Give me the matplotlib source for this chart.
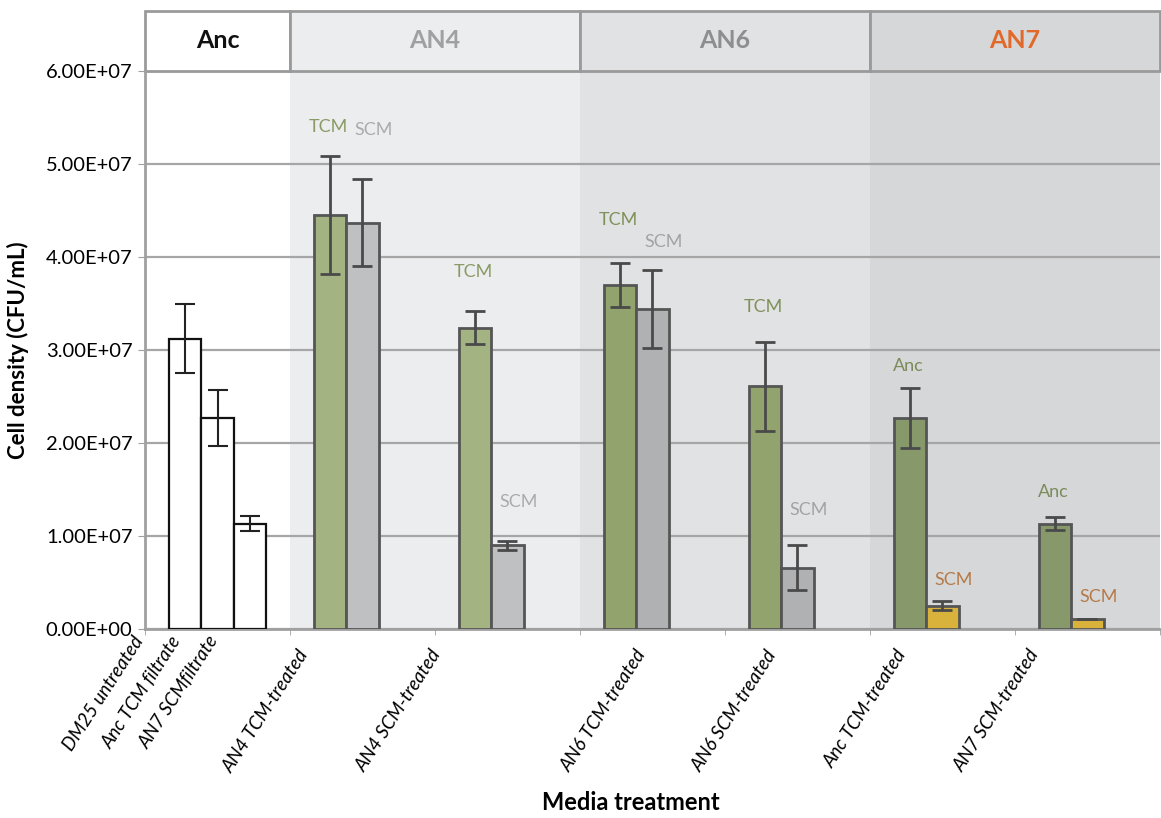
import matplotlib
matplotlib.use('Agg')
import matplotlib.pyplot as plt
import matplotlib.transforms as mtransforms
from matplotlib.patches import Rectangle
import numpy as np

plt.rcParams['font.family'] = ['Lato', 'DejaVu Sans']

# ancestor controls (white bars)
anc_labels = ['DM25 untreated', 'Anc TCM filtrate', 'AN7 SCMfiltrate']
anc_vals = [3.12e7, 2.27e7, 1.13e7]
anc_err = [0.37e7, 0.30e7, 0.08e7]

# treated pairs: first bar (TCM / Anc), second bar (SCM)
pair_labels = ['AN4 TCM-treated', 'AN4 SCM-treated', 'AN6 TCM-treated',
               'AN6 SCM-treated', 'Anc TCM-treated', 'AN7 SCM-treated']
first_vals = [4.45e7, 3.24e7, 3.70e7, 2.61e7, 2.27e7, 1.13e7]
first_err = [0.63e7, 0.18e7, 0.24e7, 0.48e7, 0.32e7, 0.07e7]
second_vals = [4.37e7, 0.90e7, 3.44e7, 0.66e7, 0.25e7, 0.11e7]
second_err = [0.47e7, 0.05e7, 0.42e7, 0.24e7, 0.05e7, 0.0]

first_names = ['TCM', 'TCM', 'TCM', 'TCM', 'Anc', 'Anc']
second_names = ['SCM', 'SCM', 'SCM', 'SCM', 'SCM', 'SCM']
first_name_y = [5.40e7, 3.84e7, 4.40e7, 3.46e7, 2.83e7, 1.47e7]
second_name_y = [5.37e7, 1.37e7, 4.16e7, 1.28e7, 0.53e7, 0.34e7]

sections = ['Anc', 'AN4', 'AN6', 'AN7']
section_edges = [0, 4.5, 13.5, 22.5, 31.5]
section_bg = ['#FFFFFF', '#ECEDEF', '#E1E2E4', '#D6D7D9']
section_title_col = ['#111111', '#A0A0A0', '#8E8E8E', '#E2692A']

first_cols = ['#A3B381', '#A3B381', '#93A36E', '#93A36E', '#87996A', '#87996A']
second_cols = ['#BFC0C2', '#BFC0C2', '#B0B1B3', '#B0B1B3', '#D9B23C', '#D9B23C']
first_txt = ['#8A9A64', '#8A9A64', '#7F9058', '#7F9058', '#7B8B5B', '#7B8B5B']
second_txt = ['#ABABAB', '#ABABAB', '#A3A3A3', '#A3A3A3', '#B57A48', '#B57A48']

anc_x = np.array([1.25, 2.25, 3.25])
pair_x = np.array([6.25, 10.75, 15.25, 19.75, 24.25, 28.75])
anc_label_x = [-0.4, 0.78, 1.93]
pair_label_x = [4.73, 8.83, 15.19, 19.26, 23.3, 27.4]

fig = plt.figure(figsize=(11.61, 8.18), dpi=100)
ax = fig.add_axes([0.1249, 0.2311, 0.8742, 0.6822])

# shaded sections and header boxes
for i, name in enumerate(sections):
    x0, x1 = section_edges[i], section_edges[i + 1]
    ax.axvspan(x0, x1, color=section_bg[i], zorder=0, lw=0)
    ax.add_patch(Rectangle((x0, 1.0), x1 - x0, 0.1075,
                           transform=ax.get_xaxis_transform(), clip_on=False,
                           facecolor=section_bg[i], edgecolor='#9A9A9A', lw=2))
    ax.text((x0 + x1) / 2, 1.055, name, transform=ax.get_xaxis_transform(),
            ha='center', va='center', fontsize=18, fontweight='bold',
            color=section_title_col[i])

ax.set_yticks(np.arange(0, 6.01e7, 1e7))
ax.yaxis.grid(True, color='#A6A6A6', lw=1.6, zorder=1)
ax.set_axisbelow(True)
ax.yaxis.set_major_formatter(matplotlib.ticker.FuncFormatter(lambda v, p: '{:.2E}'.format(v)))

ax.bar(anc_x, anc_vals, width=1.0, color='white', edgecolor='#111111', lw=1.6, zorder=3,
       yerr=anc_err, error_kw=dict(ecolor='#222222', elinewidth=1.5, capsize=7, capthick=1.5))
ax.bar(pair_x - 0.5, first_vals, width=1.0, color=first_cols, edgecolor='#555555', lw=2, zorder=3,
       yerr=first_err, error_kw=dict(ecolor='#4A4A4A', elinewidth=2, capsize=7, capthick=2))
ax.bar(pair_x + 0.5, second_vals, width=1.0, color=second_cols, edgecolor='#555555', lw=2, zorder=3,
       yerr=second_err, error_kw=dict(ecolor='#4A4A4A', elinewidth=2, capsize=7, capthick=2))

for i in range(len(pair_x)):
    ax.text(pair_x[i] - 0.55, first_name_y[i], first_names[i], ha='center', va='center',
            fontsize=13, color=first_txt[i])
    ax.text(pair_x[i] + 0.85, second_name_y[i], second_names[i], ha='center', va='center',
            fontsize=13, color=second_txt[i])

# category labels drawn as text so the first one may sit left of the axis
anc_trans = mtransforms.offset_copy(ax.get_xaxis_transform(), fig=fig, y=-3, units='points')
pair_trans = mtransforms.offset_copy(ax.get_xaxis_transform(), fig=fig, y=-13, units='points')
for xs, labs, tr in [(anc_label_x, anc_labels, anc_trans), (pair_label_x, pair_labels, pair_trans)]:
    for x, lab in zip(xs, labs):
        ax.text(x, 0, lab, transform=tr, rotation=57, ha='right', va='top',
                rotation_mode='anchor', fontsize=13.5, style='italic', clip_on=False)

ax.set_xticks([])
ax.set_xticks(section_edges + [9, 18, 27], minor=True)
ax.tick_params(axis='x', which='minor', length=4, color='#A0A0A0')
ax.tick_params(axis='y', length=5, color='#A0A0A0', labelsize=14.5, pad=4)

ax.set_xlim(0, 31.5)
ax.set_ylim(0, 6e7)

for side in ['top', 'right']:
    ax.spines[side].set_visible(False)
for side in ['left', 'bottom']:
    ax.spines[side].set_color('#A0A0A0')
    ax.spines[side].set_linewidth(2)

ax.set_ylabel('Cell density (CFU/mL)', fontsize=16, fontweight='bold', labelpad=12)
fig.text(0.543, 0.005, 'Media treatment', ha='center', va='bottom',
         fontsize=17, fontweight='bold')

plt.savefig('out.png', dpi=100)
